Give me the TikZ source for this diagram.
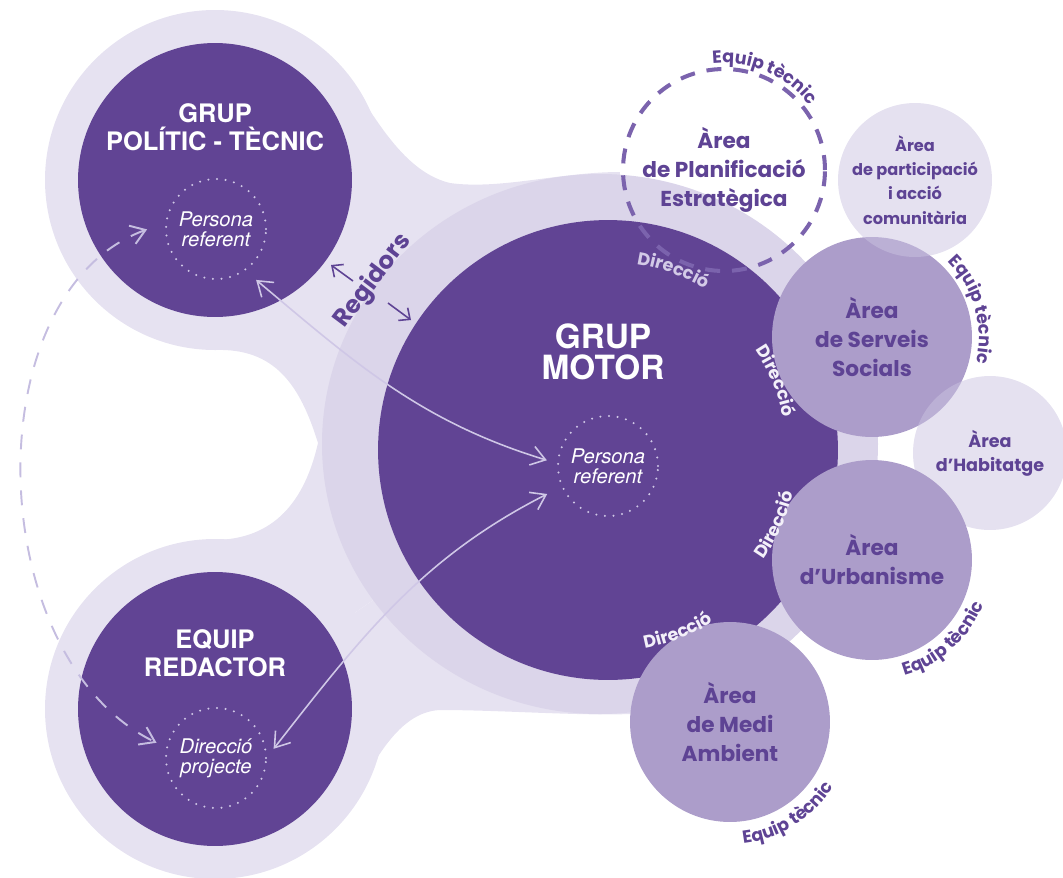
\documentclass[tikz,border=0pt]{standalone}
\usepackage{fontspec}
\setmainfont{Poppins}
\newfontfamily\headfont{TeX Gyre Heros}
\usetikzlibrary{arrows.meta,decorations.text,positioning}

\definecolor{dark}{HTML}{614494}
\definecolor{mid}{HTML}{AC9DCA}
\definecolor{halo}{HTML}{DBD5EA}
\definecolor{blob}{HTML}{E6E2F1}
\definecolor{pale}{HTML}{CBC3E1}
\definecolor{ink}{HTML}{5E4394}
\definecolor{dashc}{HTML}{7B63AD}
\definecolor{lilac}{HTML}{CFC7E6}
\definecolor{lilacd}{HTML}{C5BDE0}
\definecolor{lav}{HTML}{D3CAE7}
\definecolor{snow}{HTML}{F3F0F9}

\begin{document}
\begin{tikzpicture}[x=0.02cm,y=0.02cm,
  >={Straight Barb[length=8pt,width=11pt]},
  darkc/.style={circle,fill=dark,inner sep=0pt},
  refc/.style={circle,draw=lilac,line width=1.3pt,dash pattern=on 0pt off 4.9pt,line cap=round,
    minimum size=2cm,inner sep=0pt,text=white,align=center,font=\headfont\itshape\fontsize{11.5}{11.5}\selectfont},
  title/.style={text=white,align=center,font=\headfont\bfseries\fontsize{14.5}{16}\selectfont},
  areac/.style={circle,fill=mid,minimum size=4cm,inner sep=0pt,text=ink,align=center,
    font=\bfseries\fontsize{12.3}{16.5}\selectfont},
  palec/.style={circle,fill=pale,fill opacity=0.5,text opacity=1,minimum size=3.08cm,inner sep=0pt,
    text=ink,align=center,font=\bfseries\fontsize{9.2}{13.8}\selectfont},
  link/.style={draw=lilac,line width=0.9pt},
  regarrow/.style={draw=ink,line width=0.9pt,-{Straight Barb[length=5pt,width=9pt]}},
  ]
\useasboundingbox (0,0) rectangle (1063,-877);

% background shapes
\fill[blob] (215,-180) circle[radius=170] (215,-709) circle[radius=170];
\fill[blob] (215,-180) -- (335,-60) .. controls (365,-95) and (395,-170) .. (450,-183)
   .. controls (500,-190) and (560,-172) .. (620,-172) -- (600,-444) -- cycle;
\fill[blob] (215,-180) -- (215,-350) .. controls (275,-348) and (300,-385) .. (318,-443)
   .. controls (305,-500) and (275,-540) .. (213,-540) -- (215,-709) -- (600,-444) -- cycle;
\fill[blob] (215,-709) -- (345,-815) .. controls (370,-770) and (395,-712) .. (440,-710)
   .. controls (500,-710) and (580,-716) .. (630,-714) -- (600,-444) -- cycle;
\fill[halo] (600,-444) ellipse[x radius=278,y radius=270];

\node[darkc,minimum size=5.48cm] (pol) at (215,-180) {};
\node[darkc,minimum size=5.48cm] (red) at (215,-709) {};
\node[darkc,minimum size=9.2cm] (mot) at (608,-450) {};

\node[title] (poltit) at (215,-127) {GRUP\\POLÍTIC - TÈCNIC};
\node[title] (redtit) at (215,-653) {EQUIP\\REDACTOR};
\node[title,font=\headfont\bfseries\fontsize{19}{18}\selectfont] (mottit) at (603,-352) {GRUP\\MOTOR};

\node[refc] (polref) at (216,-229) {Persona\\referent};
\node[refc] (motref) at (608,-466) {Persona\\referent};
\node[refc] (redref) at (216,-758) {Direcció\\projecte};

\draw[link,<->,shorten <=8pt,shorten >=6pt] (polref.-55) to[out=-40,in=163] (motref.177);
\draw[link,<->,shorten <=9pt,shorten >=6pt] (motref.204) to[out=-153,in=52] (redref.1);
\draw[link,draw=lilacd,line width=1.1pt,dash pattern=on 8.5pt off 7.4pt,<->,shorten <=11pt,shorten >=6pt]
   (polref.173) to[out=200,in=154] (redref.168);

\node[rotate=53,text=ink,font=\bfseries\fontsize{13.8}{14}\selectfont] (reg) at (373,-281) {Regidors};
\coordinate (regA1) at (353,-281);
\coordinate (regA2) at (331,-265);
\coordinate (regB1) at (388,-303);
\coordinate (regB2) at (411,-320);
\draw[regarrow] (regA1) -- (regA2);
\draw[regarrow] (regB1) -- (regB2);

% areas
\node[areac] (serv) at (872,-337) {Àrea\\de Serveis\\Socials};
\node[palec] (part) at (915,-180) {Àrea\\de participació\\i acció\\comunitària};
\node[palec,font=\bfseries\fontsize{10}{13.5}\selectfont] (hab) at (990,-453) {Àrea\\d’Habitatge};
\node[areac] (urb) at (872,-560) {Àrea\\d’Urbanisme};
\node[areac] (medi) at (730,-722) {Àrea\\de Medi\\Ambient};
\node[circle,draw=dashc,line width=2.3pt,dash pattern=on 8.5pt off 6.8pt,minimum size=4.04cm,inner sep=0pt,
  text=ink,align=center,font=\bfseries\fontsize{12.3}{16.5}\selectfont] (plan) at (724,-170)
  {Àrea\\de Planificació\\Estratègica};

% labels on arcs
\path[decorate,decoration={text along path,text align=center,
  text={|\color{lav}\bfseries\fontsize{10}{12}\selectfont|Direcció}}]
  (mot.center) ++(90:188) arc[start angle=90,end angle=50,radius=188];
\path[decorate,decoration={text along path,text align=center,
  text={|\color{snow}\bfseries\fontsize{10}{12}\selectfont|Direcció}}]
  (mot.center) ++(42.4:178) arc[start angle=42.4,end angle=2.4,radius=178];
\path[decorate,decoration={text along path,text align=center,
  text={|\color{snow}\bfseries\fontsize{10}{12}\selectfont|Direcció}}]
  (mot.center) ++(-44.2:190) arc[start angle=-44.2,end angle=-4.2,radius=190];
\path[decorate,decoration={text along path,text align=center,
  text={|\color{snow}\bfseries\fontsize{10}{12}\selectfont|Direcció}}]
  (mot.center) ++(-89:202) arc[start angle=-89,end angle=-49,radius=202];

\path[decorate,decoration={text along path,text align=center,
  text={|\color{ink}\bfseries\fontsize{10}{12}\selectfont|Equip tècnic}}]
  (plan.center) ++(106.5:107) arc[start angle=106.5,end angle=26.5,radius=107];
\path[decorate,decoration={text along path,text align=center,
  text={|\color{ink}\bfseries\fontsize{10}{12}\selectfont|Equip tècnic}}]
  (serv.center) ++(55.5:107) arc[start angle=55.5,end angle=-24.5,radius=107];
\path[decorate,decoration={text along path,text align=center,
  text={|\color{ink}\bfseries\fontsize{10}{12}\selectfont|Equip tècnic}}]
  (urb.center) ++(-88:120) arc[start angle=-88,end angle=-8,radius=120];
\path[decorate,decoration={text along path,text align=center,
  text={|\color{ink}\bfseries\fontsize{10}{12}\selectfont|Equip tècnic}}]
  (medi.center) ++(-97.75:122) arc[start angle=-97.75,end angle=-17.75,radius=122];
\end{tikzpicture}
\end{document}
